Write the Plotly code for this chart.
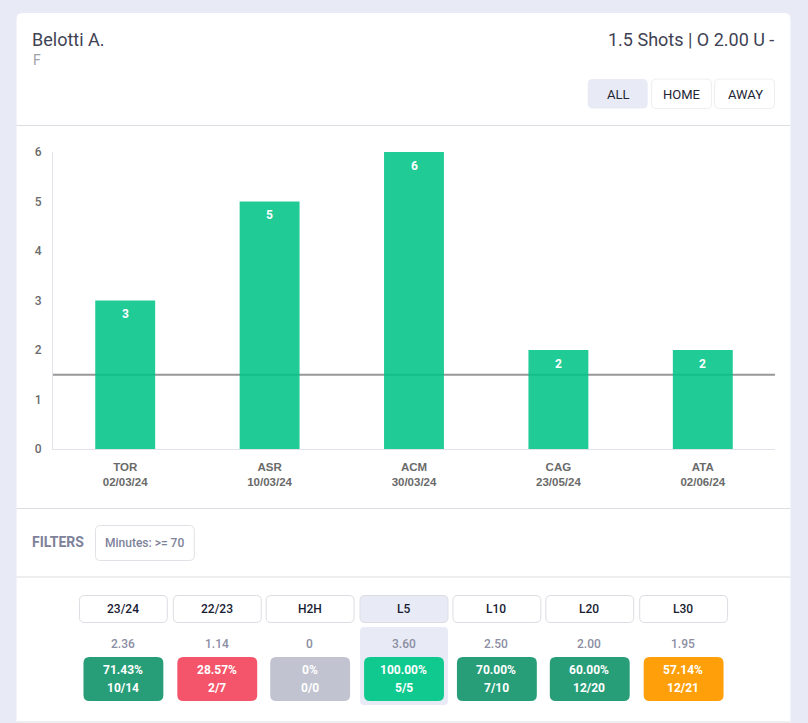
import plotly.graph_objects as go

teams = ["TOR", "ASR", "ACM", "CAG", "ATA"]
dates = ["02/03/24", "10/03/24", "30/03/24", "23/05/24", "02/06/24"]
shots = [3, 5, 6, 2, 2]
threshold = 1.5
y_ticks = [0, 1, 2, 3, 4, 5, 6]

periods = ["23/24", "22/23", "H2H", "L5", "L10", "L20", "L30"]
averages = ["2.36", "1.14", "0", "3.60", "2.50", "2.00", "1.95"]
percents = ["71.43%", "28.57%", "0%", "100.00%", "70.00%", "60.00%", "57.14%"]
fractions = ["10/14", "2/7", "0/0", "5/5", "7/10", "12/20", "12/21"]
box_colors = ["#279e78", "#f4556a", "#c1c3d0", "#10c98f", "#279e78", "#279e78", "#ff9f0a"]

W, H = 808, 723
L, R, T, B = 52.5, 775.5, 152, 449
PAGE = "#e8ebf5"
FONT = "Roboto, sans-serif"


def px(x):
    return (x - L) / (R - L)


def py(y):
    return (B - y) / (B - T)


def rrect(x0, y0, x1, y1, r, fill, line=None):
    a, b, c, d = px(x0), px(x1), py(y0), py(y1)
    rx, ry = r / (R - L), r / (B - T)
    path = (f"M {a+rx} {c} L {b-rx} {c} Q {b} {c} {b} {c-ry} L {b} {d+ry} Q {b} {d} {b-rx} {d} "
            f"L {a+rx} {d} Q {a} {d} {a} {d+ry} L {a} {c-ry} Q {a} {c} {a+rx} {c} Z")
    return dict(type="path", path=path, xref="paper", yref="paper", layer="below", fillcolor=fill,
                line=dict(color=line or fill, width=1 if line else 0))


def hline(y, x0=16, x1=791):
    return dict(type="line", xref="paper", yref="paper", x0=px(x0), x1=px(x1), y0=py(y), y1=py(y),
                layer="below", line=dict(color="#dcdde2", width=1))


def label(x, y, text, size=12, color="#333", weight=400, anchor="center", family=FONT):
    return dict(xref="paper", yref="paper", x=px(x), y=py(y), text=text, showarrow=False,
                xanchor=anchor, yanchor="middle", borderpad=0,
                font=dict(size=size, color=color, family=family, weight=weight))


shapes = [rrect(16, 13, 791, 740, 6, "#ffffff"), hline(125.5), hline(508.5), hline(577), hline(722)]
ann = [
    label(30.5, 39, "Belotti A.", 18, "#3f4254", 400, "left"),
    label(31, 60, "F", 14, "#a1a1a8", 400, "left"),
    label(776, 39, "1.5 Shots | O 2.00 U -", 18, "#3f4254", 400, "right"),
    label(30.5, 542, "FILTERS", 14, "#7e8299", 700, "left"),
    label(144, 542.5, "Minutes: >= 70", 12, "#7e8299", 500),
]

for (cx, x0, x1, txt, active) in [(618, 588, 648, "ALL", True), (681.5, 652, 712, "HOME", False),
                                  (745, 715, 775, "AWAY", False)]:
    shapes.append(rrect(x0, 79, x1, 108.5, 5, "#e8ebf5" if active else "#ffffff", None if active else "#eeeef2"))
    ann.append(label(cx + 0.5, 94, txt, 13, "#222533"))

shapes.append(rrect(95, 525.5, 194, 560.5, 5, "#ffffff", "#e0e1e6"))

btn_x = [(79, 167), (173, 261), (266, 354), (360, 448), (453, 541), (546, 634), (640, 728)]
box_x = [(83, 163), (177, 257), (270, 350), (364, 444), (457, 537), (550, 630), (644, 724)]
for i, p in enumerate(periods):
    active = p == "L5"
    x0, x1 = btn_x[i]
    cx = (x0 + x1) / 2
    if active:
        shapes.append(rrect(x0, 627, x1, 705, 4, "#e8ebf5"))
    shapes.append(rrect(x0, 595.5, x1, 622.5, 5, "#e8ebf5" if active else "#ffffff", "#dcdde3"))
    bx0, bx1 = box_x[i]
    shapes.append(rrect(bx0, 657, bx1, 701, 6, box_colors[i]))
    ann.append(label(cx - 0.5, 609, p, 12, "#181c32", 500))
    ann.append(label(cx - 0.5, 644, averages[i], 12, "#8c8ea3", 500))
    ann.append(label(cx - 0.5, 670, percents[i], 12, "#ffffff", 700))
    ann.append(label(cx - 0.5, 688, fractions[i], 12, "#ffffff", 700))

for i, v in enumerate(shots):
    ann.append(dict(xref="x", yref="y", x=i, y=v, yshift=-13.5, text=str(v), showarrow=False,
                    xanchor="center", yanchor="middle", borderpad=0,
                    font=dict(color="#ffffff", size=12, family=FONT, weight=700)))

# The threshold line sits under the translucent bars, so it shows through them.
shapes.append(dict(type="line", xref="paper", yref="y", x0=0, x1=1, y0=threshold, y1=threshold,
                   layer="below", line=dict(color="#979797", width=2)))

fig = go.Figure(go.Bar(
    x=list(range(len(teams))), y=shots, width=60 / 144.6,
    marker=dict(color="rgba(0,195,134,0.87)", line=dict(width=0)),
    hoverinfo="skip",
))

fig.update_layout(
    width=W, height=H, margin=dict(l=L, r=W - R, t=T, b=H - B, pad=0),
    paper_bgcolor=PAGE, plot_bgcolor="rgba(0,0,0,0)", showlegend=False,
    shapes=shapes, annotations=ann,
    font=dict(family="Liberation Sans, Arial, sans-serif"),
    xaxis=dict(range=[-0.5, 4.5], tickmode="array", tickvals=list(range(len(teams))),
               ticktext=[f"{t}<br>{d}" for t, d in zip(teams, dates)],
               tickfont=dict(size=11.5, color="#6a6a6a", weight=700), showgrid=False, zeroline=False,
               showline=True, linecolor="#e2e3e8", linewidth=1, ticks="", ticklabelstandoff=7,
               fixedrange=True, automargin=False),
    yaxis=dict(range=[0, 6], tickmode="array", tickvals=y_ticks,
               tickfont=dict(size=12, color="#6a6a6a", family=FONT, weight=500), showgrid=False, zeroline=False,
               showline=True, linecolor="#e2e3e8", linewidth=1, ticks="outside", ticklen=8,
               tickcolor="rgba(0,0,0,0)", fixedrange=True, automargin=False),
)

fig.write_html("out.html", config=dict(displayModeBar=False),
               post_script="document.body.style.margin='0';document.body.style.overflow='hidden';")
